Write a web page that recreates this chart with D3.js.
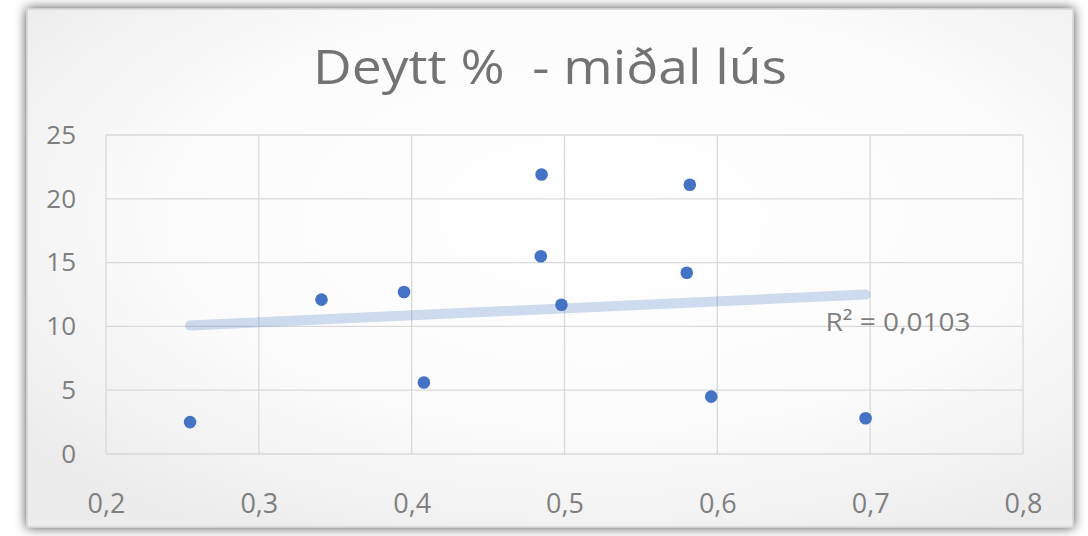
<!DOCTYPE html>
<html>
<head>
<meta charset="utf-8">
<script src="https://cdn.jsdelivr.net/npm/d3@7"></script>
<style>
  html, body { margin: 0; padding: 0; background: #ffffff; }
  svg { display: block; }
  text { font-family: "Open Sans", "DejaVu Sans", sans-serif; }
</style>
</head>
<body>
<svg id="chart" width="1088" height="536"></svg>
<script>
const titleText = "Deytt %  - miðal lús";
const xValues = [0.255, 0.341, 0.395, 0.408, 0.485, 0.4845, 0.498, 0.582, 0.580, 0.596, 0.697];
const yValues = [2.5, 12.1, 12.7, 5.6, 21.9, 15.5, 11.7, 21.1, 14.2, 4.5, 2.8];
const xTicks = [0.2, 0.3, 0.4, 0.5, 0.6, 0.7, 0.8];
const yTicks = [0, 5, 10, 15, 20, 25];
const rSquaredLabel = "R² = 0,0103";

const W = 1088, H = 536;
const svg = d3.select("#chart");
const defs = svg.append("defs");

const shadow = defs.append("filter").attr("id", "shadow")
  .attr("x", "-5%").attr("y", "-8%").attr("width", "110%").attr("height", "116%");
shadow.append("feDropShadow").attr("dx", 0).attr("dy", 0)
  .attr("stdDeviation", 6).attr("flood-color", "#000").attr("flood-opacity", 0.7);

const grad = defs.append("radialGradient").attr("id", "bg")
  .attr("cx", "55%").attr("cy", "40%").attr("r", "70%");
grad.append("stop").attr("offset", "0%").attr("stop-color", "#ffffff");
grad.append("stop").attr("offset", "60%").attr("stop-color", "#fbfbfb");
grad.append("stop").attr("offset", "100%").attr("stop-color", "#ececec");

// chart frame
svg.append("rect").attr("x", 27).attr("y", 9).attr("width", 1046).attr("height", 518)
  .attr("fill", "url(#bg)").attr("stroke", "#d4d4d4").attr("stroke-width", 1.5)
  .attr("filter", "url(#shadow)");

const plot = { left: 106, right: 1023, top: 135, bottom: 454 };
const x = d3.scaleLinear().domain([0.2, 0.8]).range([plot.left, plot.right]);
const y = d3.scaleLinear().domain([0, 25]).range([plot.bottom, plot.top]);
const fmt = d => d3.format(".1f")(d).replace(".", ",");

// gridlines
const g = svg.append("g");
g.selectAll("line.h").data(yTicks).join("line")
  .attr("x1", plot.left).attr("x2", plot.right)
  .attr("y1", d => y(d)).attr("y2", d => y(d))
  .attr("stroke", "#d9d9d9").attr("stroke-width", 1.3);
g.selectAll("line.v").data(xTicks).join("line")
  .attr("y1", plot.top).attr("y2", plot.bottom)
  .attr("x1", d => x(d)).attr("x2", d => x(d))
  .attr("stroke", "#d9d9d9").attr("stroke-width", 1.3);

// axes labels via d3 axes
const xAxis = svg.append("g").attr("transform", `translate(0,${plot.bottom})`)
  .call(d3.axisBottom(x).tickValues(xTicks).tickFormat(fmt).tickSize(0).tickPadding(40));
const yAxis = svg.append("g").attr("transform", `translate(${plot.left},0)`)
  .call(d3.axisLeft(y).tickValues(yTicks).tickSize(0).tickPadding(30));
[xAxis, yAxis].forEach(a => {
  a.select(".domain").remove();
  a.selectAll("text").attr("fill", "#7f7f7f").style("font-size", "26px")
    .style("font-family", "'Open Sans', sans-serif");
});
xAxis.selectAll("text").style("font-size", "27px");

// trendline (least squares)
const n = xValues.length;
const mx = d3.mean(xValues), my = d3.mean(yValues);
let sxy = 0, sxx = 0;
for (let i = 0; i < n; i++) { sxy += (xValues[i]-mx)*(yValues[i]-my); sxx += (xValues[i]-mx)**2; }
const slope = sxy / sxx, intercept = my - slope * mx;
const x0 = d3.min(xValues), x1 = d3.max(xValues);
svg.append("line")
  .attr("x1", x(x0)).attr("y1", y(intercept + slope*x0))
  .attr("x2", x(x1)).attr("y2", y(intercept + slope*x1))
  .attr("stroke", "#4472C4").attr("stroke-opacity", 0.25)
  .attr("stroke-width", 10).attr("stroke-linecap", "round");

// points
svg.selectAll("circle.pt").data(xValues.map((v, i) => [v, yValues[i]])).join("circle")
  .attr("cx", d => x(d[0])).attr("cy", d => y(d[1])).attr("r", 6.3)
  .attr("fill", "#4472C4");

// R² label
svg.append("text").attr("x", 898).attr("y", 331).attr("text-anchor", "middle")
  .attr("fill", "#7f7f7f").style("font-size", "26px")
  .attr("textLength", 145).attr("lengthAdjust", "spacingAndGlyphs")
  .text(rSquaredLabel);

// title
svg.append("text").attr("x", 550).attr("y", 84).attr("text-anchor", "middle")
  .attr("fill", "#737373").style("font-size", "48px").style("white-space", "pre")
  .attr("xml:space", "preserve")
  .attr("textLength", 474).attr("lengthAdjust", "spacingAndGlyphs")
  .text(titleText);
</script>
</body>
</html>
